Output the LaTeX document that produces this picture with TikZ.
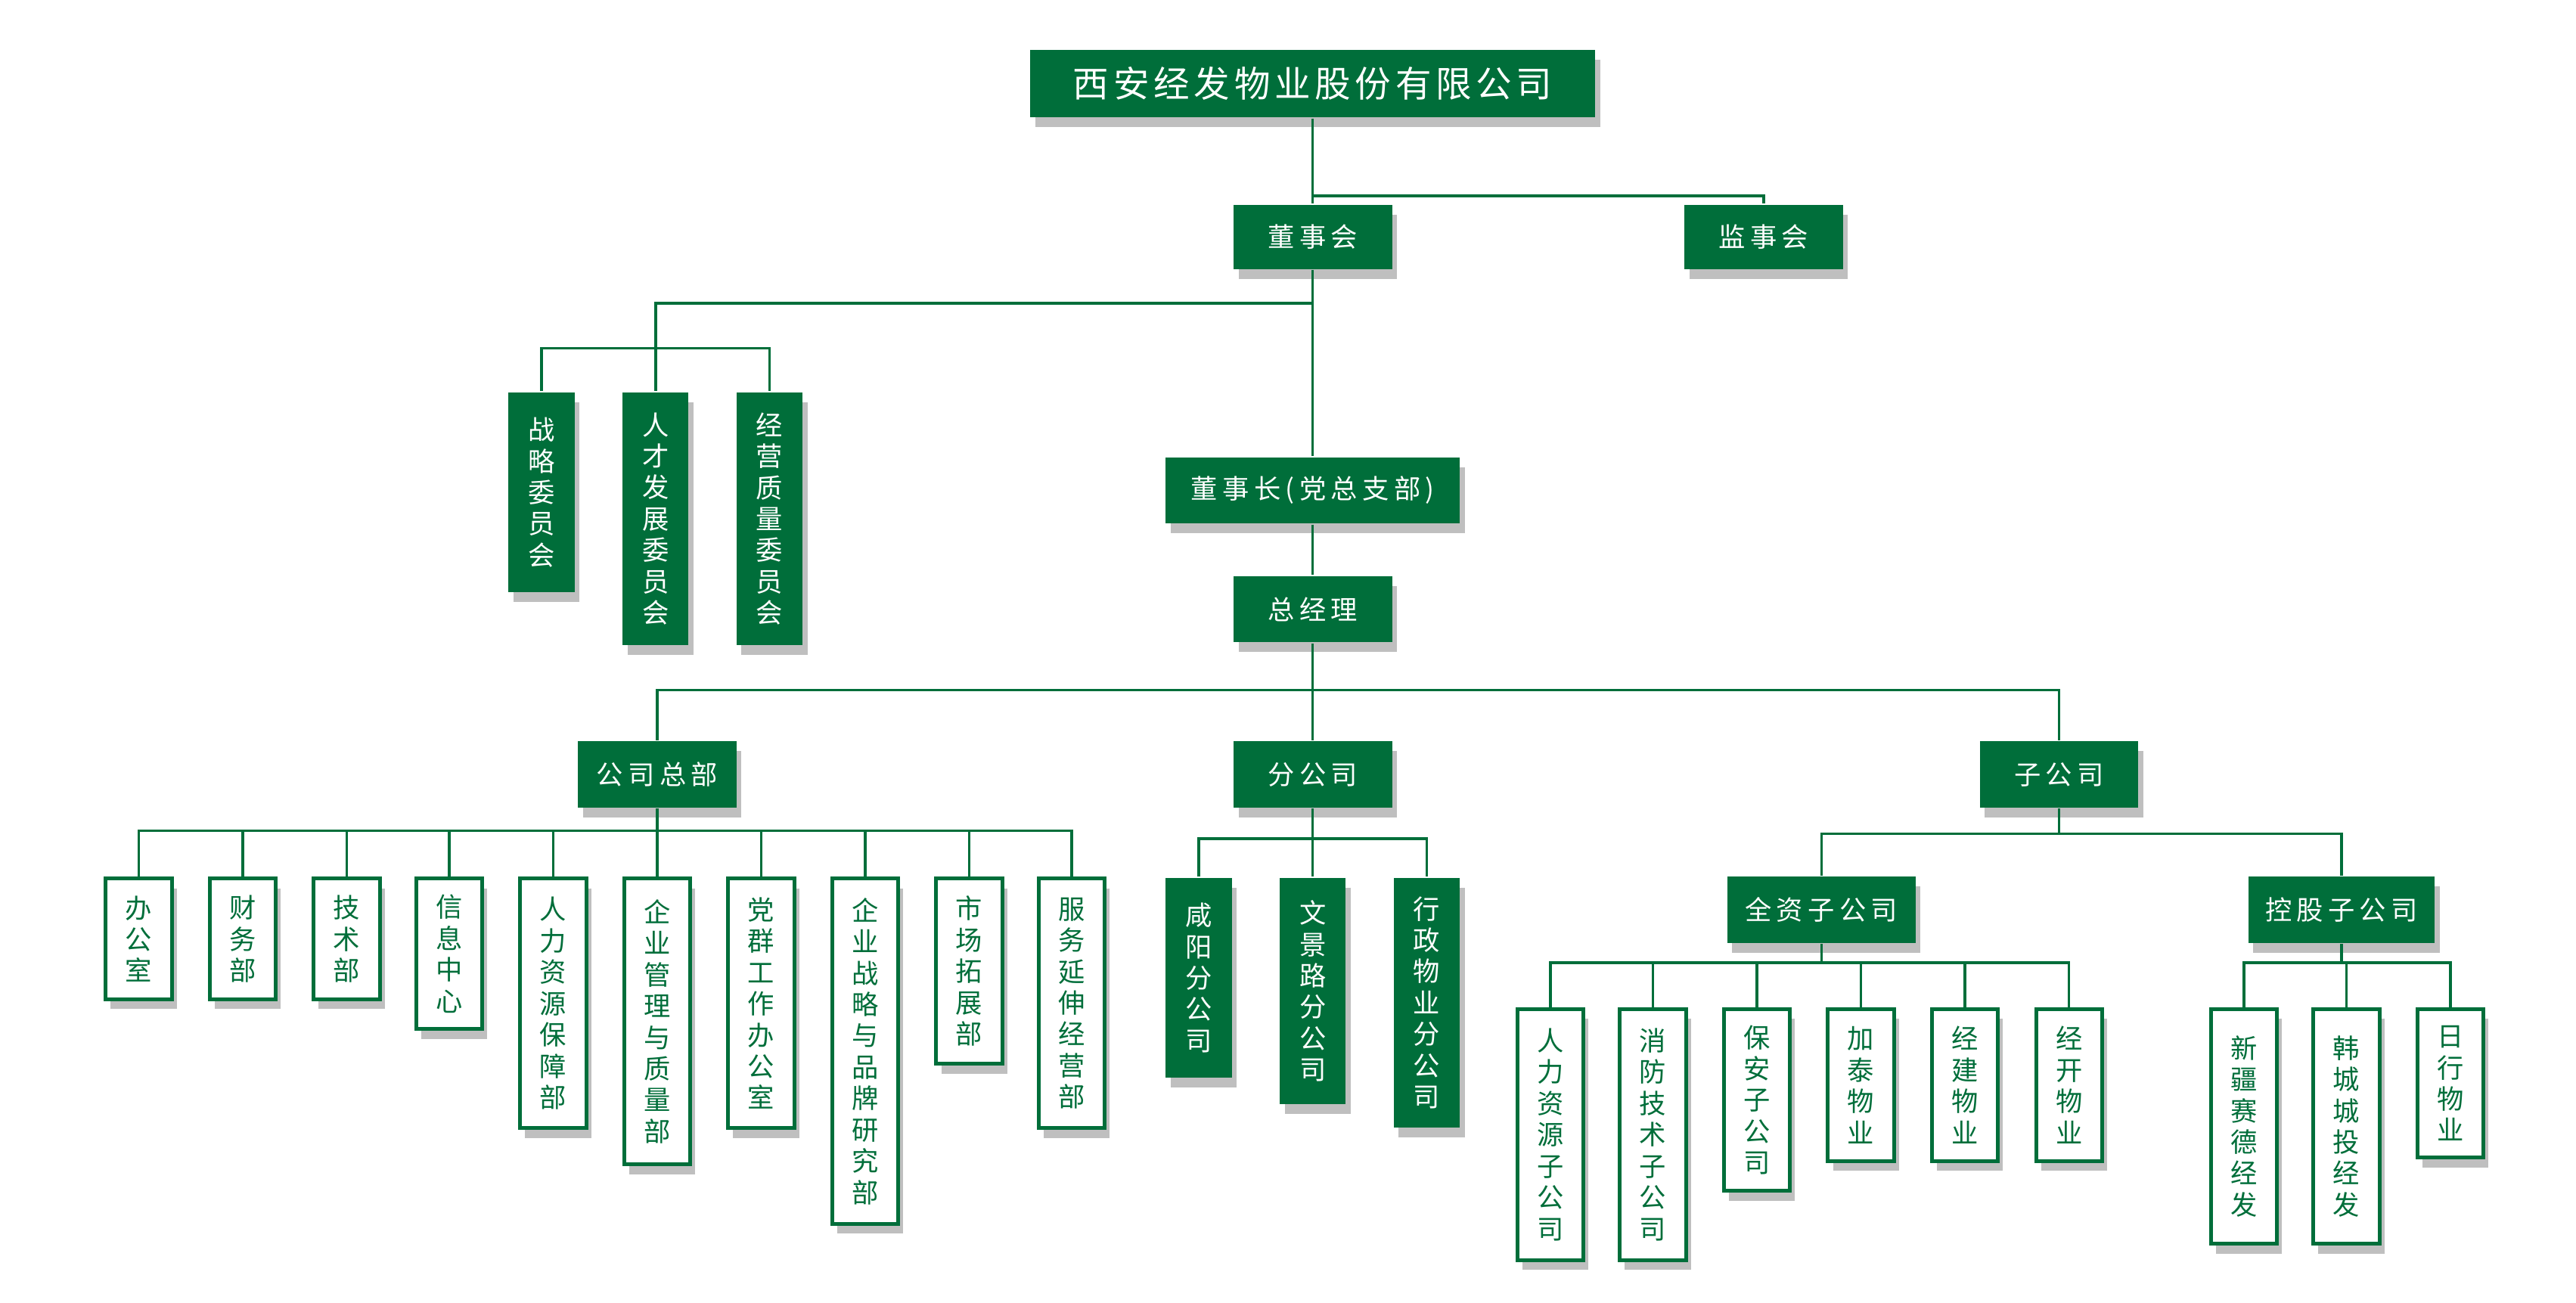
\documentclass[tikz,border=0pt]{standalone}
\usepackage{fontspec}
\setmainfont{Noto Sans CJK SC}
\newfontfamily\hfont[LetterSpace=18]{Noto Sans CJK SC}
\usetikzlibrary{shadows}
\definecolor{gr}{RGB}{0,110,58}
\tikzset{
  ln/.style={draw=gr,line width=0.45pt},
  shd/.style={drop shadow={shadow xshift=0.3mm,shadow yshift=-0.6mm,opacity=0.25,fill=black}},
  hbox/.style={fill=gr,text=white,shd,inner sep=0,font=\hfont\fontsize{4.6pt}{5pt}\selectfont},
  vfill/.style={fill=gr,text=white,shd,inner sep=0,align=center,font=\fontsize{4.6pt}{5.4pt}\selectfont},
  vwhite/.style={fill=white,draw=gr,line width=0.65pt,text=gr,shd,inner sep=0,align=center,font=\fontsize{4.6pt}{5.4pt}\selectfont},
}
\newcommand{\hb}[6]{\node[hbox,minimum width=#4*0.1mm,minimum height=#5*0.1mm] (#1) at (#2,#3) {#6};}
\newcommand{\vbx}[6]{\node[#6,anchor=north,minimum width=4mm,minimum height=#4*0.1mm-#3*0.1mm] (#1) at (#2,#3) {#5};}
\begin{document}
\begin{tikzpicture}[x=0.1mm,y=-0.1mm]
\useasboundingbox (0,0) rectangle (1560,789);
% top levels
\node[hbox,minimum width=34.2mm,minimum height=4.1mm,font=\addfontfeature{LetterSpace=12}\fontsize{6.2pt}{7pt}\selectfont] (top) at (795,50.5) {西安经发物业股份有限公司};
\hb{dsh}{795}{143.5}{96}{39}{董事会}
\hb{jsh}{1068}{143.5}{96}{39}{监事会}
\hb{dsz}{795}{297}{178}{40}{董事长(党总支部)}
\hb{zjl}{795}{369}{96}{40}{总经理}
\hb{gszb}{398}{469}{96}{40}{公司总部}
\hb{fgs}{795}{469}{96}{40}{分公司}
\hb{zgs}{1247}{469}{96}{40}{子公司}
\hb{qz}{1103}{551}{114}{40}{全资子公司}
\hb{kg}{1418}{551}{113}{40}{控股子公司}
% committees
\vbx{c1}{328}{237}{358}{战\\略\\委\\员\\会}{vfill}
\vbx{c2}{397}{237}{390}{人\\才\\发\\展\\委\\员\\会}{vfill}
\vbx{c3}{466}{237}{390}{经\\营\\质\\量\\委\\员\\会}{vfill}
% HQ departments
\vbx{d1}{84}{531}{604}{办\\公\\室}{vwhite}
\vbx{d2}{147}{531}{604}{财\\务\\部}{vwhite}
\vbx{d3}{210}{531}{604}{技\\术\\部}{vwhite}
\vbx{d4}{272}{531}{622}{信\\息\\中\\心}{vwhite}
\vbx{d5}{335}{531}{682}{人\\力\\资\\源\\保\\障\\部}{vwhite}
\vbx{d6}{398}{531}{704}{企\\业\\管\\理\\与\\质\\量\\部}{vwhite}
\vbx{d7}{461}{531}{682}{党\\群\\工\\作\\办\\公\\室}{vwhite}
\vbx{d8}{524}{531}{740}{企\\业\\战\\略\\与\\品\\牌\\研\\究\\部}{vwhite}
\vbx{d9}{587}{531}{643}{市\\场\\拓\\展\\部}{vwhite}
\vbx{d10}{649}{531}{682}{服\\务\\延\\伸\\经\\营\\部}{vwhite}
% branches
\vbx{b1}{726}{531}{652}{咸\\阳\\分\\公\\司}{vfill}
\vbx{b2}{795}{531}{668}{文\\景\\路\\分\\公\\司}{vfill}
\vbx{b3}{864}{531}{682}{行\\政\\物\\业\\分\\公\\司}{vfill}
% wholly owned
\vbx{w1}{939}{610}{762}{人\\力\\资\\源\\子\\公\\司}{vwhite}
\vbx{w2}{1001}{610}{762}{消\\防\\技\\术\\子\\公\\司}{vwhite}
\vbx{w3}{1064}{610}{720}{保\\安\\子\\公\\司}{vwhite}
\vbx{w4}{1127}{610}{702}{加\\泰\\物\\业}{vwhite}
\vbx{w5}{1190}{610}{702}{经\\建\\物\\业}{vwhite}
\vbx{w6}{1253}{610}{702}{经\\开\\物\\业}{vwhite}
% holdings
\vbx{k1}{1359}{610}{752}{新\\疆\\赛\\德\\经\\发}{vwhite}
\vbx{k2}{1421}{610}{752}{韩\\城\\城\\投\\经\\发}{vwhite}
\vbx{k3}{1484}{610}{700}{日\\行\\物\\业}{vwhite}
% connectors
\begin{scope}[on background layer/.try]
\draw[ln] (top.south) -- (dsh.north);
\draw[ln] (top.south) ++(0,47) -| (jsh.north);
\draw[ln] (dsh.south) -- (dsz.north);
\draw[ln] (dsh.south) ++(0,20) -| (c2.north);
\draw[ln] (c1.north) |- (397,211) -| (c3.north);
\draw[ln] (dsz.south) -- (zjl.north);
\draw[ln] (zjl.south) -- (fgs.north);
\draw[ln] (gszb.north) |- (795,418) -| (zgs.north);
\draw[ln] (d1.north) |- (398,503) -| (d10.north);
\foreach \n in {d2,d3,d4,d5,d6,d7,d8,d9} \draw[ln] (\n.north) -- (\n.north |- 0,503);
\draw[ln] (gszb.south) -- (398,503);
\draw[ln] (fgs.south) -- (b2.north);
\draw[ln] (b1.north) |- (795,508) -| (b3.north);
\draw[ln] (qz.north) |- (1247,505) -| (kg.north);
\draw[ln] (zgs.south) -- (1247,505);
\draw[ln] (w1.north) |- (1103,583) -| (w6.north);
\foreach \n in {w2,w3,w4,w5} \draw[ln] (\n.north) -- (\n.north |- 0,583);
\draw[ln] (qz.south) -- (1103,583);
\draw[ln] (k1.north) |- (1418,583) -| (k3.north);
\draw[ln] (k2.north) -- (k2.north |- 0,583);
\draw[ln] (kg.south) -- (1418,583);
\end{scope}
\end{tikzpicture}
\end{document}
